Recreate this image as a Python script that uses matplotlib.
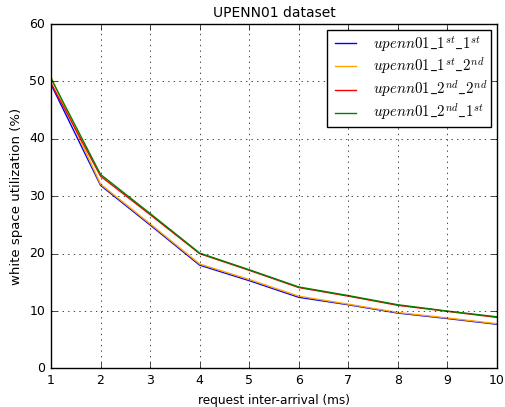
import matplotlib
matplotlib.use('Agg')
import matplotlib.pyplot as plt

plt.style.use('classic')

inter_arrival = [1, 2, 3, 4, 5, 6, 7, 8, 9, 10]
u_1st_1st = [49.5, 31.9, 25.0, 18.0, 15.3, 12.4, 11.1, 9.65, 8.7, 7.7]
u_1st_2nd = [50.8, 32.1, 25.2, 18.2, 15.5, 12.6, 11.2, 9.75, 8.8, 7.8]
u_2nd_2nd = [49.7, 33.5, 26.8, 20.0, 17.1, 14.1, 12.6, 11.0, 9.95, 8.9]
u_2nd_1st = [50.5, 33.8, 27.0, 20.1, 17.2, 14.2, 12.7, 11.1, 10.0, 9.0]

series = [
    (u_1st_1st, 'blue', r'$upenn01\_1^{st}\_1^{st}$'),
    (u_1st_2nd, 'orange', r'$upenn01\_1^{st}\_2^{nd}$'),
    (u_2nd_2nd, 'red', r'$upenn01\_2^{nd}\_2^{nd}$'),
    (u_2nd_1st, 'green', r'$upenn01\_2^{nd}\_1^{st}$'),
]

fig = plt.figure(figsize=(5.06, 4.07), dpi=100)
ax = fig.add_axes([0.1008, 0.0946, 0.8814, 0.8464])
for vals, color, label in series:
    ax.plot(inter_arrival, vals, color=color, label=label, linewidth=1)

ax.set_xlim(1, 10)
ax.set_ylim(0, 60)
ax.grid(True)
ax.tick_params(labelsize=9)
ax.set_xlabel('request inter-arrival (ms)', fontsize=8.7)
ax.set_ylabel('white space utilization (%)', fontsize=9.5)
ax.set_title('UPENN01 dataset', fontsize=10)
ax.legend(loc='upper right', fontsize=10.8, labelspacing=0.15, handlelength=2.0,
          borderpad=0.25, borderaxespad=0.4)

fig.savefig('out.png', dpi=100)
